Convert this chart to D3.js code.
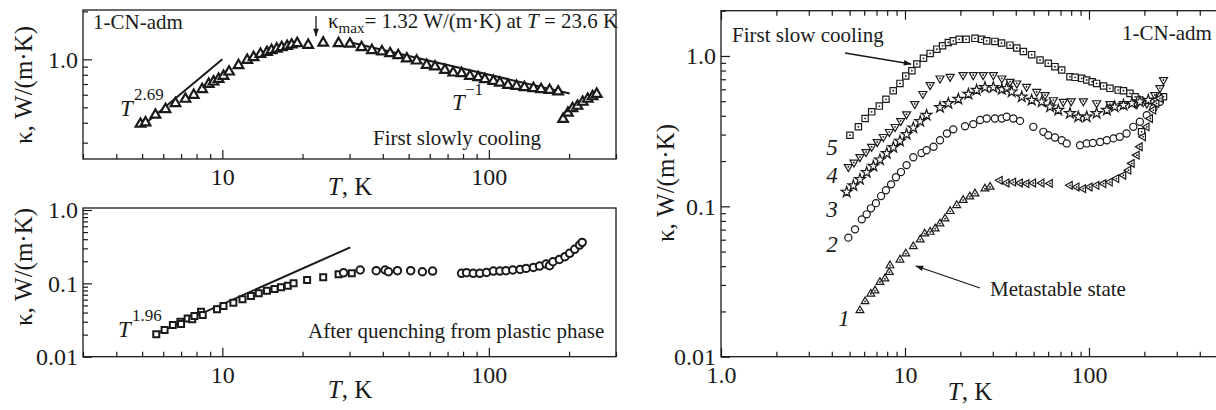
<!DOCTYPE html>
<html>
<head>
<meta charset="utf-8">
<script src="https://cdn.jsdelivr.net/npm/d3@7"></script>
<style>
  body { margin: 0; background: #fff; }
  svg { display: block; font-family: "Liberation Serif", "Times New Roman", serif; }
</style>
</head>
<body>
<svg id="chart" width="1216" height="410"></svg>
<script>
"use strict";
// ---- data (T in K, kappa in W/(m K)) ----
// left top: first slow cooling
const slowT = [4.93, 5.15, 5.61, 6.12, 6.67, 7.27, 7.81, 8.40, 8.89, 9.27, 9.68, 10.1, 10.6, 11.5, 12.4, 13.1, 13.9, 14.7, 15.3, 16.0, 16.7, 17.5, 18.2, 19.1, 21.0, 23.9, 27.3, 30.1, 33.3, 36.4, 39.7, 42.6, 45.7, 49.2, 53.6, 58.4, 62.8, 68.4, 73.5, 79.0, 84.9, 91.2, 96.6, 104, 110, 118, 127, 136, 147, 157, 169, 182];
const slowK = [0.393, 0.401, 0.448, 0.486, 0.530, 0.564, 0.597, 0.649, 0.700, 0.724, 0.752, 0.786, 0.836, 0.917, 0.99, 1.03, 1.08, 1.11, 1.14, 1.165, 1.19, 1.21, 1.235, 1.26, 1.23, 1.27, 1.26, 1.25, 1.19, 1.14, 1.12, 1.09, 1.06, 1.01, 0.98, 0.92, 0.90, 0.857, 0.824, 0.817, 0.786, 0.771, 0.75, 0.731, 0.713, 0.69, 0.68, 0.668, 0.658, 0.649, 0.642, 0.627];
const plasticT = [190, 198, 206, 215, 225, 235, 245, 254];
const plasticK = [0.422, 0.461, 0.492, 0.51, 0.54, 0.564, 0.585, 0.606];
const fitUpT = [5.06, 10];      // T^2.69 guide
const fitUpK = [0.387, 1.0];
const fitDownT = [30.1, 201];   // T^-1 guide
const fitDownK = [1.28, 0.61];

// left bottom: after quenching
const quenchSqT = [5.65, 6.07, 6.52, 6.96, 7.0, 7.41, 7.71, 7.86, 8.32, 8.44, 9.55, 10.1, 11.0, 11.9, 12.8, 13.7, 14.7, 15.7, 16.6, 17.6, 18.5, 20.8, 23.9, 27.3, 30.6];
const quenchSqK = [0.0203, 0.0231, 0.027, 0.0299, 0.028, 0.0333, 0.0323, 0.0358, 0.0410, 0.037, 0.0442, 0.049, 0.0543, 0.0605, 0.0671, 0.0731, 0.0793, 0.0836, 0.0882, 0.0927, 0.100, 0.111, 0.121, 0.133, 0.137];
const quenchCiT = [28.5, 32.9, 37.8, 40.8, 42.0, 45.4, 50.9, 56.3, 61.5, 79.0, 82.5, 87.4, 92.5, 98.0, 104, 110, 116, 123, 131, 138, 147, 155, 164, 169, 174, 184, 193, 201, 210, 219, 224];
const quenchCiK = [0.139, 0.152, 0.149, 0.152, 0.144, 0.149, 0.149, 0.144, 0.147, 0.137, 0.140, 0.137, 0.137, 0.141, 0.147, 0.147, 0.149, 0.152, 0.155, 0.160, 0.165, 0.172, 0.183, 0.174, 0.197, 0.212, 0.231, 0.257, 0.291, 0.333, 0.362];
const fitQT = [5.65, 30.2];     // T^1.96 guide
const fitQK = [0.0206, 0.31];

// right: curves 1..5
const metaUpT = [5.69, 6.07, 6.52, 6.87, 7.31, 7.78, 8.22, 8.29, 9.39, 10.1, 11.1, 12.1, 12.8, 13.7, 14.6, 15.5, 16.5, 17.6, 19.1, 20.7, 22.5, 24.0, 27.2, 29.0];
const metaUpK = [0.0203, 0.0233, 0.0262, 0.0275, 0.0313, 0.033, 0.0365, 0.0404, 0.0441, 0.0484, 0.0541, 0.060, 0.0658, 0.0675, 0.0710, 0.0767, 0.0828, 0.0927, 0.1016, 0.110, 0.116, 0.1215, 0.131, 0.1345];
const metaLeftT = [32.8, 35.7, 38.8, 42.2, 45.8, 49.8, 55.3, 61.4, 78.8, 85.7, 93.1, 101, 110, 120, 130, 141, 154, 164, 171, 182, 189, 197, 206, 215, 224, 233, 243];
const metaLeftK = [0.149, 0.143, 0.145, 0.143, 0.1416, 0.143, 0.143, 0.142, 0.138, 0.1345, 0.131, 0.1345, 0.138, 0.1416, 0.145, 0.153, 0.161, 0.174, 0.193, 0.219, 0.249, 0.290, 0.338, 0.384, 0.437, 0.484, 0.523];
const c2T = [4.92, 5.35, 5.82, 6.19, 6.53, 6.95, 7.41, 7.88, 8.40, 8.93, 9.51, 10.2, 11.1, 12.3, 13.1, 14.3, 15.5, 16.9, 18.3, 21.2, 23.5, 25.6, 27.8, 30.8, 33.6, 35.7, 38.8, 42.2, 49.8, 56.5, 60.1, 65.3, 71.1, 75.7, 89.4, 97.2, 105, 115, 125, 136, 147, 160, 174, 189, 206, 224, 243];
const c2K = [0.0619, 0.0703, 0.0819, 0.0885, 0.0970, 0.105, 0.117, 0.128, 0.140, 0.156, 0.169, 0.188, 0.212, 0.226, 0.236, 0.249, 0.275, 0.305, 0.325, 0.341, 0.352, 0.375, 0.384, 0.384, 0.384, 0.394, 0.384, 0.370, 0.338, 0.313, 0.297, 0.287, 0.275, 0.262, 0.255, 0.262, 0.264, 0.268, 0.275, 0.283, 0.290, 0.305, 0.338, 0.365, 0.404, 0.448, 0.496];
const c3T = [4.82, 5.24, 5.69, 6.19, 6.73, 7.31, 7.96, 8.64, 9.39, 10.2, 11.1, 12.1, 13.1, 15.5, 17.2, 19.5, 22.1, 24.5, 27.2, 30.2, 33.6, 35.7, 38.0, 43.1, 48.8, 55.3, 61.4, 68.1, 78.8, 87.5, 97.2, 110, 125, 138, 154, 171, 189, 210, 233];
const c3K = [0.1245, 0.1374, 0.151, 0.168, 0.185, 0.204, 0.225, 0.247, 0.272, 0.301, 0.333, 0.367, 0.404, 0.455, 0.484, 0.517, 0.558, 0.593, 0.618, 0.618, 0.60, 0.609, 0.578, 0.535, 0.509, 0.496, 0.459, 0.437, 0.415, 0.394, 0.394, 0.415, 0.437, 0.459, 0.471, 0.484, 0.496, 0.509, 0.509];
const c4T = [4.92, 5.28, 5.69, 6.14, 6.59, 7.07, 7.62, 8.22, 8.83, 9.48, 10.2, 11.3, 12.5, 13.7, 15.5, 17.6, 20.7, 23.5, 26.6, 30.2, 33.6, 37.2, 40.5, 45.8, 52.0, 57.7, 64.0, 72.5, 80, 93.1, 110, 130, 154, 182, 206, 228, 243, 254];
const c4K = [0.183, 0.196, 0.213, 0.230, 0.249, 0.268, 0.290, 0.313, 0.338, 0.37, 0.41, 0.48, 0.56, 0.641, 0.71, 0.728, 0.747, 0.747, 0.747, 0.747, 0.71, 0.674, 0.658, 0.624, 0.578, 0.55, 0.509, 0.496, 0.50, 0.501, 0.486, 0.479, 0.479, 0.479, 0.484, 0.55, 0.612, 0.692];
const c5T = [5.02, 5.58, 6.07, 6.59, 7.25, 7.88, 8.63, 9.39, 10.1, 10.9, 11.6, 12.6, 13.7, 14.9, 16.0, 17.2, 18.3, 19.7, 21.5, 24.0, 26.1, 27.8, 30.8, 33.5, 37.2, 40.5, 44.0, 48.8, 54.2, 60.1, 65.3, 71.1, 78.8, 84.0, 91.3, 97.2, 104, 110, 120, 130, 144, 154, 167, 178, 189, 193, 243, 254];
const c5K = [0.297, 0.338, 0.384, 0.425, 0.464, 0.515, 0.587, 0.657, 0.736, 0.798, 0.885, 0.965, 1.04, 1.11, 1.17, 1.23, 1.26, 1.29, 1.29, 1.31, 1.29, 1.26, 1.25, 1.22, 1.18, 1.13, 1.07, 1.02, 0.94, 0.894, 0.849, 0.807, 0.728, 0.721, 0.71, 0.692, 0.674, 0.657, 0.631, 0.609, 0.593, 0.587, 0.564, 0.535, 0.509, 0.313, 0.509, 0.535];

// tick labels
const leftXTicks = [10, 100];
const leftXLabels = ['10', '100'];
const rightXTicks = [1, 10, 100];
const rightXLabels = ['1.0', '10', '100'];
const topYTicks = [1];
const topYLabels = ['1.0'];
const decYTicks = [0.01, 0.1, 1];
const decYLabels = ['0.01', '0.1', '1.0'];

const ink = '#1a1a1a';
const serif = '"Liberation Serif", "Times New Roman", serif';
const svg = d3.select('#chart');

const xL = d3.scaleLog().domain([3, 300]).range([83, 616]);
const yTop = d3.scaleLog().domain([0.237, 2.04]).range([159, 10]);
const yBot = d3.scaleLog().domain([0.01, 1.065]).range([356.7, 208]);
const xR = d3.scaleLog().domain([1, 500]).range([721, 1217.6]);
const yR = d3.scaleLog().domain([0.01, 2]).range([356.7, 10.7]);

svg.append('defs').append('marker')
    .attr('id', 'head').attr('viewBox', '0 0 10 10')
    .attr('refX', 9).attr('refY', 5)
    .attr('markerWidth', 11).attr('markerHeight', 8)
    .attr('markerUnits', 'userSpaceOnUse').attr('orient', 'auto')
    .append('path').attr('d', 'M0,1.5 L10,5 L0,8.5 Z').attr('fill', ink);

function frame(x, y) {
    const [x0, x1] = x.range();
    const [y0, y1] = y.range();
    svg.append('rect')
        .attr('x', x0).attr('y', y1)
        .attr('width', x1 - x0).attr('height', y0 - y1)
        .attr('fill', 'none').attr('stroke', ink).attr('stroke-width', 1.3);
}

function styleAxis(g) {
    g.attr('font-family', serif).attr('font-size', 24);
    g.select('.domain').remove();
    g.selectAll('line').attr('stroke', ink).attr('stroke-width', 1.2);
    g.selectAll('text').attr('fill', ink);
}

function isMajor(v, majors) {
    return majors.some(m => Math.abs(m - v) / m < 1e-6);
}

function axisX(x, yPos, majors, labels, top) {
    const make = top ? d3.axisTop : d3.axisBottom;
    const minor = x.ticks().filter(v => !isMajor(v, majors));
    svg.append('g').attr('transform', `translate(0,${yPos})`)
        .call(make(x).tickValues(minor).tickSize(-5).tickFormat(''))
        .call(styleAxis);
    svg.append('g').attr('transform', `translate(0,${yPos})`)
        .call(make(x).tickValues(majors).tickSize(-9).tickPadding(top ? 0 : 9)
            .tickFormat((d, i) => labels ? labels[i] : ''))
        .call(styleAxis);
}

function axisY(y, xPos, majors, labels) {
    const minor = y.ticks().filter(v => !isMajor(v, majors));
    svg.append('g').attr('transform', `translate(${xPos},0)`)
        .call(d3.axisLeft(y).tickValues(minor).tickSize(-5).tickFormat(''))
        .call(styleAxis);
    svg.append('g').attr('transform', `translate(${xPos},0)`)
        .call(d3.axisLeft(y).tickValues(majors).tickSize(-9).tickPadding(5)
            .tickFormat((d, i) => labels[i]))
        .call(styleAxis);
}

function points(x, y, T, K, type, o) {
    const sym = d3.symbol().type(type).size(o.size);
    const pts = d3.zip(T, K);
    svg.append('g').selectAll('path').data(pts).enter().append('path')
        .attr('d', sym)
        .attr('transform', d => `translate(${x(d[0])},${y(d[1])}) rotate(${o.rot || 0})`)
        .attr('fill', '#fff').attr('stroke', ink).attr('stroke-width', o.sw);
    if (o.dot) {
        svg.append('g').selectAll('circle').data(pts).enter().append('circle')
            .attr('cx', d => x(d[0])).attr('cy', d => y(d[1]))
            .attr('r', 0.9).attr('fill', ink);
    }
}

function guide(x, y, T, K) {
    svg.append('path')
        .attr('d', d3.line().x(d => x(d[0])).y(d => y(d[1]))(d3.zip(T, K)))
        .attr('fill', 'none').attr('stroke', ink).attr('stroke-width', 2);
}

function label(xp, yp, str, size, italic, anchor) {
    return svg.append('text').attr('x', xp).attr('y', yp)
        .attr('font-size', size).attr('fill', ink)
        .attr('font-style', italic ? 'italic' : null)
        .attr('text-anchor', anchor || 'start')
        .text(str);
}

function axisTitleX(cx, yp) {
    const t = svg.append('text').attr('x', cx).attr('y', yp)
        .attr('text-anchor', 'middle').attr('font-size', 25).attr('fill', ink);
    t.append('tspan').attr('font-style', 'italic').text('T');
    t.append('tspan').text(', K');
}

function axisTitleY(xp, cy) {
    svg.append('text')
        .attr('transform', `translate(${xp},${cy}) rotate(-90)`)
        .attr('text-anchor', 'middle').attr('font-size', 25).attr('fill', ink)
        .text('κ, W/(m·K)');
}

function arrow(x1, y1, x2, y2) {
    svg.append('line').attr('x1', x1).attr('y1', y1).attr('x2', x2).attr('y2', y2)
        .attr('stroke', ink).attr('stroke-width', 1.3).attr('marker-end', 'url(#head)');
}

// ---- left top panel ----
frame(xL, yTop);
axisX(xL, 159, leftXTicks, leftXLabels, false);
axisY(yTop, 83, topYTicks, topYLabels);
guide(xL, yTop, fitUpT, fitUpK);
guide(xL, yTop, fitDownT, fitDownK);
points(xL, yTop, slowT, slowK, d3.symbolTriangle, { size: 40, sw: 2.2 });
points(xL, yTop, plasticT, plasticK, d3.symbolTriangle, { size: 40, sw: 2.2 });

label(93, 29, '1-CN-adm', 21);
const kmax = svg.append('text').attr('x', 328).attr('y', 28).attr('font-size', 21).attr('fill', ink);
kmax.append('tspan').text('κ');
kmax.append('tspan').attr('font-size', 15).attr('dy', 5).text('max');
kmax.append('tspan').attr('dy', -5).text('= 1.32 W/(m·K) at ');
kmax.append('tspan').attr('font-style', 'italic').text('T');
kmax.append('tspan').text(' = 23.6 K');
arrow(316, 16, 316, 36);
label(120, 116, 'T', 23, true);
label(134, 100, '2.69', 17);
label(452, 110, 'T', 23, true);
label(465, 95, '−1', 17);
label(373, 145, 'First slowly cooling', 21);
axisTitleX(350, 195);
axisTitleY(32, 85);

// ---- left bottom panel ----
frame(xL, yBot);
axisX(xL, 356.7, leftXTicks, leftXLabels, false);
axisY(yBot, 83, decYTicks, decYLabels);
guide(xL, yBot, fitQT, fitQK);
points(xL, yBot, quenchSqT, quenchSqK, d3.symbolSquare, { size: 36, sw: 2 });
points(xL, yBot, quenchCiT, quenchCiK, d3.symbolCircle, { size: 44, sw: 2 });
label(118, 337, 'T', 23, true);
label(132, 321, '1.96', 17);
label(308, 338, 'After quenching from plastic phase', 21);
axisTitleX(350, 398);
axisTitleY(32, 267);

// ---- right panel ----
frame(xR, yR);
axisX(xR, 356.7, rightXTicks, rightXLabels, false);
axisX(xR, 10.7, rightXTicks, null, true);
axisY(yR, 721, decYTicks, decYLabels);
points(xR, yR, c5T, c5K, d3.symbolSquare, { size: 40, sw: 1.2, dot: true });
points(xR, yR, c4T, c4K, d3.symbolTriangle, { size: 28, sw: 1.2, rot: 180, dot: true });
points(xR, yR, c3T, c3K, d3.symbolStar, { size: 36, sw: 1.2 });
points(xR, yR, c2T, c2K, d3.symbolCircle, { size: 40, sw: 1.2 });
points(xR, yR, metaUpT, metaUpK, d3.symbolTriangle, { size: 26, sw: 1.2, dot: true });
points(xR, yR, metaLeftT, metaLeftK, d3.symbolTriangle, { size: 26, sw: 1.2, rot: -90, dot: true });

label(732, 42, 'First slow cooling', 21);
arrow(845, 53, 911, 64);
label(1122, 40, '1-CN-adm', 21);
label(990, 296, 'Metastable state', 21);
arrow(980, 288, 916, 266);
label(832, 155, '5', 23, true, 'middle');
label(832, 183, '4', 23, true, 'middle');
label(832, 217, '3', 23, true, 'middle');
label(832, 252, '2', 23, true, 'middle');
label(844, 326, '1', 23, true, 'middle');
axisTitleX(970, 400);
axisTitleY(674, 183);
</script>
</body>
</html>
